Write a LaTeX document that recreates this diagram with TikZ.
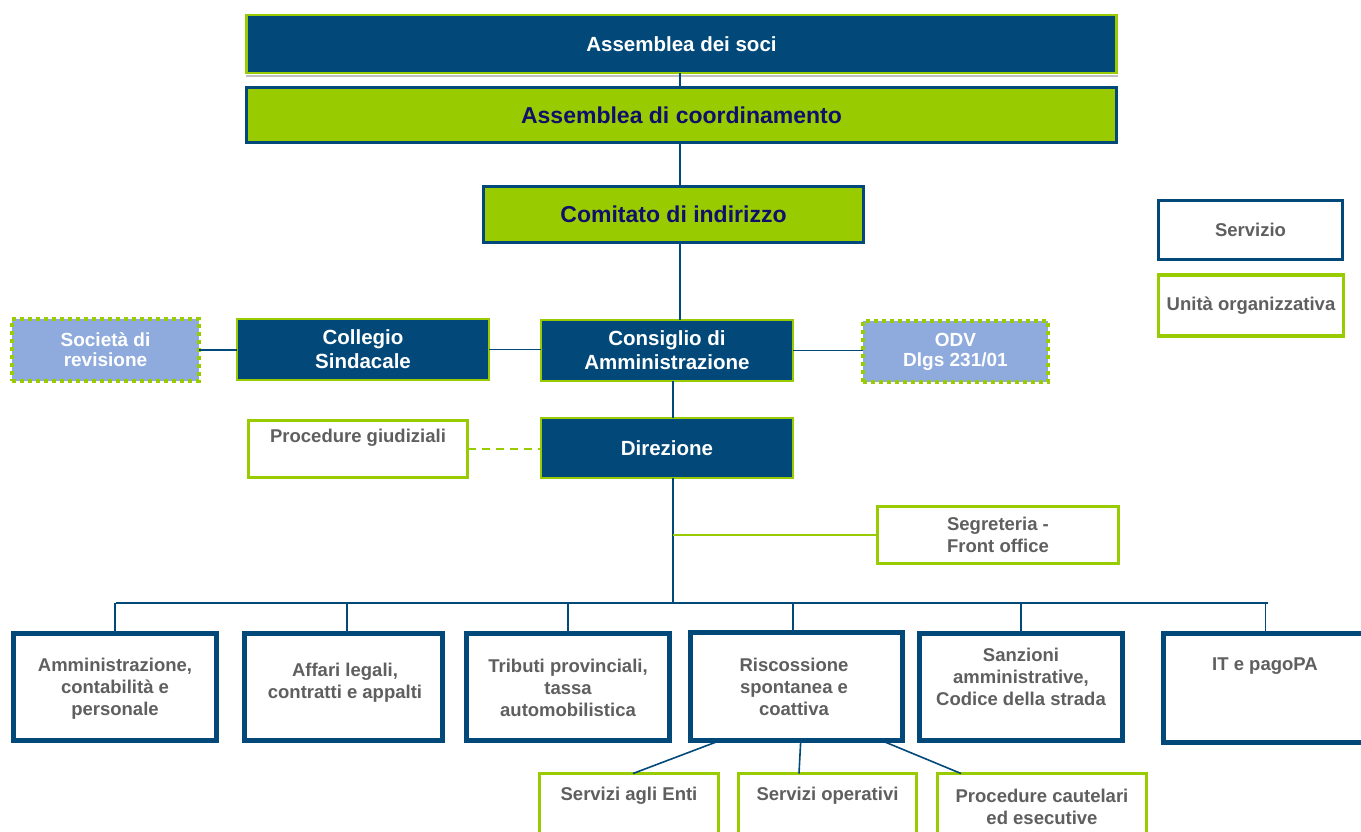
\documentclass[tikz,border=0pt]{standalone}
\usepackage{fontspec}
\setmainfont{Liberation Sans}
\usetikzlibrary{calc}
\definecolor{dblue}{HTML}{02497A}
\definecolor{lgreen}{HTML}{99CC00}
\definecolor{lblue}{HTML}{8FAADC}
\definecolor{navytxt}{HTML}{10106B}
\definecolor{tgray}{HTML}{5F5F5F}
\newcommand{\fsz}[2]{\fontsize{#1}{#2}\selectfont\bfseries}
\tikzset{
  box/.style={rectangle, inner sep=0pt, outer sep=0pt, align=center},
  dbox/.style={box, fill=dblue, draw=lgreen, line width=2.5pt, text=white, font=\fsz{20.5}{24}},
  gbox/.style={box, fill=lgreen, draw=dblue, line width=3pt, text=navytxt, font=\fsz{23}{27}},
  extbox/.style={box, fill=lblue, draw=lgreen, line width=4pt, dash pattern=on 4pt off 4pt, text=white, font=\fsz{19}{20}},
  svcbox/.style={box, fill=white, draw=dblue, line width=5pt},
  unitbox/.style={box, fill=white, draw=lgreen, line width=3.5pt},
  legsvc/.style={box, fill=white, draw=dblue, line width=3pt},
  lbl/.style={inner sep=0pt, align=center, text=tgray, font=\fsz{18.5}{22}},
  conn/.style={draw=dblue, line width=1.6pt},
  gconn/.style={draw=lgreen, line width=2pt},
}
\begin{document}
\begin{tikzpicture}[x=1pt,y=1pt]
\useasboundingbox (0,0) rectangle (1361,-832);
\coordinate (spine) at (680,0);
\coordinate (spine2) at (673,0);

% top
\draw[black!25, line width=1.5pt] (246,-76) -- (1118,-76);
\node[dbox, minimum width=870, minimum height=58] (soci) at (681.5,-44) {Assemblea dei soci};
\node[gbox, minimum width=870, minimum height=55] (coord) at (681.5,-115.5) {Assemblea di coordinamento};
\node[gbox, minimum width=380, minimum height=55] (comitato) at (673.5,-214.5) {Comitato di indirizzo};

% middle row
\node[extbox, minimum width=187, minimum height=62] (soc) at (105.5,-350) {Società di\\revisione};
\node[dbox, minimum width=252, minimum height=61] (coll) at (363,-349.5) {Collegio\\Sindacale};
\node[dbox, minimum width=252, minimum height=61] (cda) at (667,-350.5) {Consiglio di\\Amministrazione};
\node[extbox, minimum width=185, minimum height=61] (odv) at (955.5,-351.5) {ODV\\Dlgs 231/01};

\node[dbox, minimum width=252, minimum height=60] (dir) at (667,-448) {Direzione};
\node[unitbox, minimum width=219, minimum height=57] (proc) at (358,-449) {};
\node[lbl] (proct) at (358,-438) {Procedure giudiziali};
\node[unitbox, minimum width=241, minimum height=57, lbl] (seg) at (998,-535) {Segreteria -\\Front office};

% legend
\node[legsvc, minimum width=184, minimum height=59, lbl] (legs) at (1250.5,-230) {Servizio};
\node[unitbox, minimum width=185, minimum height=61, lbl] (legu) at (1251,-305.5) {Unità organizzativa};

% bottom services
\node[svcbox, minimum width=203, minimum height=107] (b1) at (115,-687) {};
\node[svcbox, minimum width=198, minimum height=107] (b2) at (343.5,-687) {};
\node[svcbox, minimum width=203, minimum height=107] (b3) at (568,-687) {};
\node[svcbox, minimum width=212, minimum height=108] (b4) at (796.5,-686.5) {};
\node[svcbox, minimum width=203, minimum height=107] (b5) at (1021,-687) {};
\node[svcbox, minimum width=204, minimum height=109] (b6) at (1265.5,-688) {};
\node[lbl] (b1t) at (115,-689) {Amministrazione,\\contabilità e\\personale};
\node[lbl] (b2t) at (345,-683) {Affari legali,\\contratti e appalti};
\node[lbl] (b3t) at (568,-688) {Tributi provinciali,\\tassa\\automobilistica};
\node[lbl] (b4t) at (794,-687) {Riscossione\\spontanea e\\coattiva};
\node[lbl] (b5t) at (1021,-677) {Sanzioni\\amministrative,\\Codice della strada};
\node[lbl] (b6t) at (1265,-666) {IT e pagoPA};

% sub units
\node[unitbox, minimum width=179, minimum height=75] (s1) at (629,-811) {};
\node[unitbox, minimum width=178, minimum height=75] (s2) at (827.5,-811) {};
\node[unitbox, minimum width=209, minimum height=75] (s3) at (1042,-811) {};
\node[lbl] (s1t) at (629,-796) {Servizi agli Enti};
\node[lbl] (s2t) at (827.5,-796) {Servizi operativi};
\node[lbl] (s3t) at (1042,-807) {Procedure cautelari\\ed esecutive};

% connectors
\draw[conn] (soci.south -| spine) -- (coord.north -| spine);
\draw[conn] (coord.south -| spine) -- (comitato.north -| spine);
\draw[conn] (comitato.south -| spine) -- (cda.north -| spine);
\draw[conn] (soc.east) -- (soc.east -| coll.west);
\draw[conn] (coll.east) -- (coll.east -| cda.west);
\draw[conn] (cda.east) -- (cda.east -| odv.west);
\draw[conn] (cda.south -| spine2) -- (dir.north -| spine2);
\draw[gconn, dash pattern=on 8pt off 6pt] (proc.east) -- (proc.east -| dir.west);

\coordinate (busL) at (116,-603);
\coordinate (busR) at (1268,-603);
\draw[conn] (dir.south -| spine2) -- (busL -| spine2);
\draw[gconn] (seg.west -| spine2) -- (seg.west);
\draw[conn] (busL) -- (busR);
\draw[conn] (b1.north) -- (b1.north |- busL);
\draw[conn] (b2.north -| 347,0) -- (busL -| 347,0);
\draw[conn] (b3.north) -- (b3.north |- busL);
\draw[conn] (b4.north -| 793,0) -- (busL -| 793,0);
\draw[conn] (b5.north) -- (b5.north |- busL);
\draw[conn] (b6.north) -- (b6.north |- busL);

\draw[conn] ($(b4.south west)!0.14!(b4.south east)$) -- ($(s1.north)+(4,0)$);
\draw[conn] ($(b4.south west)!0.52!(b4.south east)$) -- ($(s2.north)+(-28.5,0)$);
\draw[conn] ($(b4.south west)!0.9!(b4.south east)$) -- ($(s3.north)+(-81,0)$);
\end{tikzpicture}
\end{document}
